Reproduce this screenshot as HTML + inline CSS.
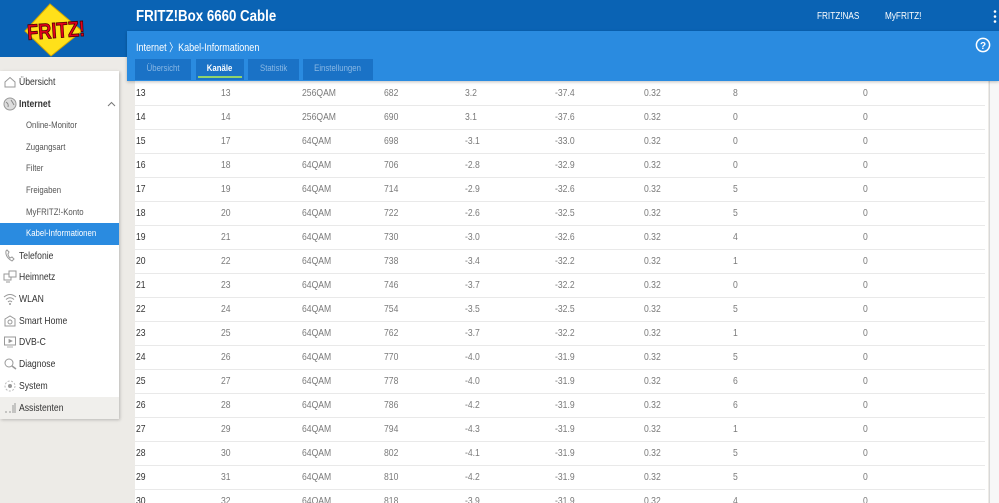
<!DOCTYPE html>
<html><head><meta charset="utf-8">
<style>
*{box-sizing:border-box;margin:0;padding:0}
html,body{width:999px;height:503px;overflow:hidden;background:#edebe7;font-family:"Liberation Sans",sans-serif}
.s{display:inline-block;transform:scaleX(.82);transform-origin:0 50%;white-space:nowrap}
#top{position:absolute;left:0;top:0;width:999px;height:31px;background:#0a63b4}
#logoarea{position:absolute;left:0;top:0;width:127px;height:57px;background:#0a63b4}
#sub{position:absolute;left:127px;top:31px;width:872px;height:50px;background:#2a8be0;box-shadow:0 1px 3px rgba(0,0,0,.25);z-index:2}
#title{position:absolute;left:136px;top:8px;color:#fff;font-weight:bold;font-size:16px;transform:scaleX(.83);transform-origin:0 50%;white-space:nowrap}
.hl{position:absolute;top:11px;color:#fff;font-size:10px}
#crumb{position:absolute;left:9px;top:8px;color:#fff;font-size:11px}
.tab{position:absolute;top:28px;height:21px;background:#1a72c6;color:#8ab8e4;font-size:9.5px;text-align:center;line-height:20px}
.tab .s{transform-origin:50% 50%}
.tab.act{color:#fff;font-weight:bold}
.tab.act:after{content:"";position:absolute;left:2px;right:2px;bottom:2px;height:2px;background:#8fd36c}
#main{position:absolute;left:135px;top:81px;width:853px;height:422px;background:#fff;overflow:hidden}
table{border-collapse:collapse;table-layout:fixed;width:850px}
td{height:24px;border-bottom:1px solid #e9e9e9;padding:0 0 0 1px;font-size:10.5px;color:#7a7a7a;vertical-align:middle}
td:first-child{color:#333}
#scroll{position:absolute;left:989px;top:60px;width:10px;height:443px;background:#f7f7f7;border-left:1px solid #d8d8d8}
#side{position:absolute;left:0;top:71px;width:119px;height:348px;background:#fff;box-shadow:1px 1px 3px rgba(0,0,0,.22)}
.it{position:absolute;left:19px;font-size:10.5px;color:#333;height:22px;line-height:22px}
.sb{left:26px;font-size:9.5px;color:#555}
.ic{position:absolute;left:3px;width:14px;height:14px}
</style></head><body>
<div id="top"></div>
<div id="logoarea"></div>
<svg style="position:absolute;left:0;top:0" width="110" height="60">
<polygon points="50,4 82,31 51,56 25,31" fill="#ffe01a" stroke="#d4a800" stroke-width="1"/>
<text x="27" y="38" font-family="Liberation Sans" font-weight="bold" font-size="19" fill="#e3001b" stroke="#4a0000" stroke-width=".7" transform="rotate(-4 55 30) scale(1,1.15) translate(0,-5)" textLength="58" lengthAdjust="spacingAndGlyphs">FRITZ!</text>
</svg>
<div id="title">FRITZ!Box 6660 Cable</div>
<div class="hl" style="left:817px"><span class="s">FRITZ!NAS</span></div>
<div class="hl" style="left:885px"><span class="s">MyFRITZ!</span></div>
<svg style="position:absolute;left:993px;top:9px" width="5" height="16"><circle cx="2" cy="2.5" r="1.3" fill="#fff"/><circle cx="2" cy="7.5" r="1.3" fill="#fff"/><circle cx="2" cy="12.5" r="1.3" fill="#fff"/></svg>
<div id="sub">
<div id="crumb"><span class="s">Internet 〉Kabel-Informationen</span></div>
<svg style="position:absolute;left:848px;top:6px" width="16" height="16"><circle cx="8" cy="8" r="6.6" fill="none" stroke="#fff" stroke-width="1.5"/><text x="8" y="12" text-anchor="middle" font-family="Liberation Sans" font-weight="bold" font-size="10" fill="#fff">?</text></svg>
<div class="tab" style="left:8px;width:56px"><span class="s">Übersicht</span></div>
<div class="tab act" style="left:69px;width:48px"><span class="s">Kanäle</span></div>
<div class="tab" style="left:121px;width:51px"><span class="s">Statistik</span></div>
<div class="tab" style="left:176px;width:70px"><span class="s">Einstellungen</span></div>
</div>
<div id="scroll"></div>
<div id="main">
<table>
<colgroup><col style="width:85px"><col style="width:81px"><col style="width:82px"><col style="width:81px"><col style="width:90px"><col style="width:89px"><col style="width:89px"><col style="width:130px"><col style="width:123px"></colgroup>
<tr><td><span class="s">13</span></td><td><span class="s">13</span></td><td><span class="s">256QAM</span></td><td><span class="s">682</span></td><td><span class="s">3.2</span></td><td><span class="s">-37.4</span></td><td><span class="s">0.32</span></td><td><span class="s">8</span></td><td><span class="s">0</span></td></tr>
<tr><td><span class="s">14</span></td><td><span class="s">14</span></td><td><span class="s">256QAM</span></td><td><span class="s">690</span></td><td><span class="s">3.1</span></td><td><span class="s">-37.6</span></td><td><span class="s">0.32</span></td><td><span class="s">0</span></td><td><span class="s">0</span></td></tr>
<tr><td><span class="s">15</span></td><td><span class="s">17</span></td><td><span class="s">64QAM</span></td><td><span class="s">698</span></td><td><span class="s">-3.1</span></td><td><span class="s">-33.0</span></td><td><span class="s">0.32</span></td><td><span class="s">0</span></td><td><span class="s">0</span></td></tr>
<tr><td><span class="s">16</span></td><td><span class="s">18</span></td><td><span class="s">64QAM</span></td><td><span class="s">706</span></td><td><span class="s">-2.8</span></td><td><span class="s">-32.9</span></td><td><span class="s">0.32</span></td><td><span class="s">0</span></td><td><span class="s">0</span></td></tr>
<tr><td><span class="s">17</span></td><td><span class="s">19</span></td><td><span class="s">64QAM</span></td><td><span class="s">714</span></td><td><span class="s">-2.9</span></td><td><span class="s">-32.6</span></td><td><span class="s">0.32</span></td><td><span class="s">5</span></td><td><span class="s">0</span></td></tr>
<tr><td><span class="s">18</span></td><td><span class="s">20</span></td><td><span class="s">64QAM</span></td><td><span class="s">722</span></td><td><span class="s">-2.6</span></td><td><span class="s">-32.5</span></td><td><span class="s">0.32</span></td><td><span class="s">5</span></td><td><span class="s">0</span></td></tr>
<tr><td><span class="s">19</span></td><td><span class="s">21</span></td><td><span class="s">64QAM</span></td><td><span class="s">730</span></td><td><span class="s">-3.0</span></td><td><span class="s">-32.6</span></td><td><span class="s">0.32</span></td><td><span class="s">4</span></td><td><span class="s">0</span></td></tr>
<tr><td><span class="s">20</span></td><td><span class="s">22</span></td><td><span class="s">64QAM</span></td><td><span class="s">738</span></td><td><span class="s">-3.4</span></td><td><span class="s">-32.2</span></td><td><span class="s">0.32</span></td><td><span class="s">1</span></td><td><span class="s">0</span></td></tr>
<tr><td><span class="s">21</span></td><td><span class="s">23</span></td><td><span class="s">64QAM</span></td><td><span class="s">746</span></td><td><span class="s">-3.7</span></td><td><span class="s">-32.2</span></td><td><span class="s">0.32</span></td><td><span class="s">0</span></td><td><span class="s">0</span></td></tr>
<tr><td><span class="s">22</span></td><td><span class="s">24</span></td><td><span class="s">64QAM</span></td><td><span class="s">754</span></td><td><span class="s">-3.5</span></td><td><span class="s">-32.5</span></td><td><span class="s">0.32</span></td><td><span class="s">5</span></td><td><span class="s">0</span></td></tr>
<tr><td><span class="s">23</span></td><td><span class="s">25</span></td><td><span class="s">64QAM</span></td><td><span class="s">762</span></td><td><span class="s">-3.7</span></td><td><span class="s">-32.2</span></td><td><span class="s">0.32</span></td><td><span class="s">1</span></td><td><span class="s">0</span></td></tr>
<tr><td><span class="s">24</span></td><td><span class="s">26</span></td><td><span class="s">64QAM</span></td><td><span class="s">770</span></td><td><span class="s">-4.0</span></td><td><span class="s">-31.9</span></td><td><span class="s">0.32</span></td><td><span class="s">5</span></td><td><span class="s">0</span></td></tr>
<tr><td><span class="s">25</span></td><td><span class="s">27</span></td><td><span class="s">64QAM</span></td><td><span class="s">778</span></td><td><span class="s">-4.0</span></td><td><span class="s">-31.9</span></td><td><span class="s">0.32</span></td><td><span class="s">6</span></td><td><span class="s">0</span></td></tr>
<tr><td><span class="s">26</span></td><td><span class="s">28</span></td><td><span class="s">64QAM</span></td><td><span class="s">786</span></td><td><span class="s">-4.2</span></td><td><span class="s">-31.9</span></td><td><span class="s">0.32</span></td><td><span class="s">6</span></td><td><span class="s">0</span></td></tr>
<tr><td><span class="s">27</span></td><td><span class="s">29</span></td><td><span class="s">64QAM</span></td><td><span class="s">794</span></td><td><span class="s">-4.3</span></td><td><span class="s">-31.9</span></td><td><span class="s">0.32</span></td><td><span class="s">1</span></td><td><span class="s">0</span></td></tr>
<tr><td><span class="s">28</span></td><td><span class="s">30</span></td><td><span class="s">64QAM</span></td><td><span class="s">802</span></td><td><span class="s">-4.1</span></td><td><span class="s">-31.9</span></td><td><span class="s">0.32</span></td><td><span class="s">5</span></td><td><span class="s">0</span></td></tr>
<tr><td><span class="s">29</span></td><td><span class="s">31</span></td><td><span class="s">64QAM</span></td><td><span class="s">810</span></td><td><span class="s">-4.2</span></td><td><span class="s">-31.9</span></td><td><span class="s">0.32</span></td><td><span class="s">5</span></td><td><span class="s">0</span></td></tr>
<tr><td><span class="s">30</span></td><td><span class="s">32</span></td><td><span class="s">64QAM</span></td><td><span class="s">818</span></td><td><span class="s">-3.9</span></td><td><span class="s">-31.9</span></td><td><span class="s">0.32</span></td><td><span class="s">4</span></td><td><span class="s">0</span></td></tr>
</table>
</div>
<div id="side">
<div style="position:absolute;left:0;top:152px;width:119px;height:22px;background:#2a8be0"></div>
<div style="position:absolute;left:0;top:326px;width:119px;height:22px;background:#f0efec"></div>
<svg class="ic" style="top:4px" viewBox="0 0 14 14"><path d="M2 7 L7 2.5 L12 7 V12 H2 Z" fill="none" stroke="#999" stroke-width="1"/></svg>
<div class="it" style="top:0px"><span class="s">Übersicht</span></div>
<svg class="ic" style="top:26px" viewBox="0 0 14 14"><circle cx="7" cy="7" r="6" fill="#ddd" stroke="#999" stroke-width="1"/><path d="M3 5 Q6 7 5 10 M8 3 Q10 6 11 8" fill="none" stroke="#888" stroke-width="1"/></svg>
<div class="it" style="top:22px;font-weight:bold"><span class="s">Internet</span></div>
<svg style="position:absolute;left:107px;top:30px" width="9" height="6"><path d="M1 5 L4.5 1.5 L8 5" fill="none" stroke="#777" stroke-width="1"/></svg>
<div class="it sb" style="top:44px"><span class="s">Online-Monitor</span></div>
<div class="it sb" style="top:66px"><span class="s">Zugangsart</span></div>
<div class="it sb" style="top:87px"><span class="s">Filter</span></div>
<div class="it sb" style="top:109px"><span class="s">Freigaben</span></div>
<div class="it sb" style="top:131px"><span class="s">MyFRITZ!-Konto</span></div>
<div class="it sb" style="top:152px;color:#fff"><span class="s">Kabel-Informationen</span></div>
<svg class="ic" style="top:178px" viewBox="0 0 14 14"><path d="M3 2 Q2 8 9 12 L11 10 L9 8 L7 9 Q5 7 5 5 L6 3 L4 1 Z" fill="none" stroke="#999" stroke-width="1"/></svg>
<div class="it" style="top:174px"><span class="s">Telefonie</span></div>
<svg class="ic" style="top:199px" viewBox="0 0 14 14"><rect x="1" y="4" width="7" height="6" fill="none" stroke="#999"/><rect x="6" y="1" width="7" height="6" fill="#fff" stroke="#999"/><path d="M3 12 H7" stroke="#999"/></svg>
<div class="it" style="top:195px"><span class="s">Heimnetz</span></div>
<svg class="ic" style="top:221px" viewBox="0 0 14 14"><path d="M1 5 Q7 0 13 5 M3 7.5 Q7 4 11 7.5 M5 10 Q7 8 9 10" fill="none" stroke="#999"/><circle cx="7" cy="12" r="1" fill="#999"/></svg>
<div class="it" style="top:217px"><span class="s">WLAN</span></div>
<svg class="ic" style="top:243px" viewBox="0 0 14 14"><path d="M2 5 L7 2 L12 5 V12 H2 Z" fill="none" stroke="#999"/><circle cx="7" cy="8" r="2" fill="none" stroke="#999"/></svg>
<div class="it" style="top:239px"><span class="s">Smart Home</span></div>
<svg class="ic" style="top:264px" viewBox="0 0 14 14"><rect x="1.5" y="2" width="11" height="8" fill="none" stroke="#999"/><path d="M6 4.5 L9 6 L6 7.5Z M4 12 H10" fill="#999" stroke="#999" stroke-width=".8"/></svg>
<div class="it" style="top:260px"><span class="s">DVB-C</span></div>
<svg class="ic" style="top:286px" viewBox="0 0 14 14"><circle cx="6" cy="6" r="4" fill="none" stroke="#999"/><path d="M9 9 L13 12" stroke="#999" stroke-width="1.5"/></svg>
<div class="it" style="top:282px"><span class="s">Diagnose</span></div>
<svg class="ic" style="top:308px" viewBox="0 0 14 14"><circle cx="7" cy="7" r="5" fill="none" stroke="#bbb" stroke-dasharray="2 1.5"/><circle cx="7" cy="7" r="2" fill="#999"/></svg>
<div class="it" style="top:304px"><span class="s">System</span></div>
<svg class="ic" style="top:330px" viewBox="0 0 14 14"><path d="M2 11 H4 M6 11 H8 M10 4 V12 M12 2 V12" stroke="#999" stroke-width="1"/></svg>
<div class="it" style="top:326px"><span class="s">Assistenten</span></div>
</div>
</body></html>
